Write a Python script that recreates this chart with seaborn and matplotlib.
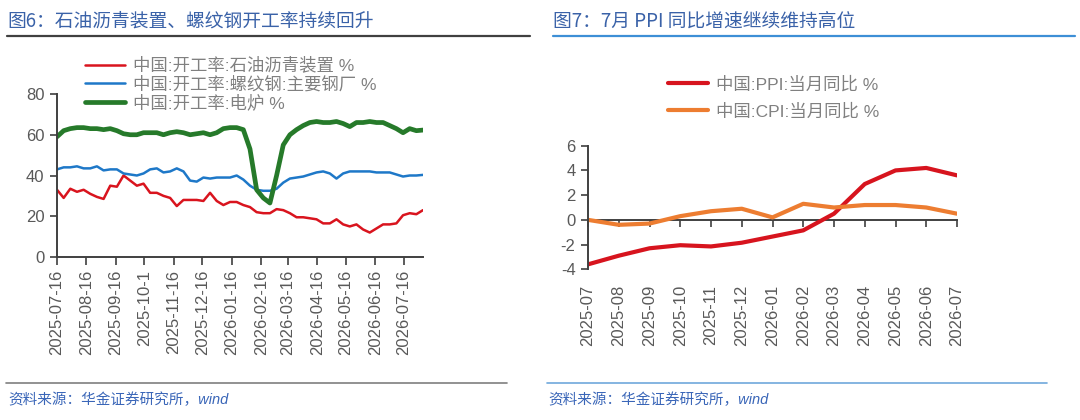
import pandas as pd
import matplotlib
matplotlib.use("Agg")
import matplotlib.pyplot as plt
from matplotlib.lines import Line2D
import seaborn as sns

sns.set_style("ticks")
plt.rcParams['font.family'] = ['Liberation Sans', 'Noto Sans CJK SC']
plt.rcParams['axes.unicode_minus'] = False

# ---- left chart: weekly operating rates ----
weeks = pd.date_range("2025-07-16", periods=56, freq="7D")
asphalt = [33, 29, 33.5, 32, 33, 31, 29.5, 28.5, 35, 34.5,
           40, 37.5, 35, 36, 31.5, 31.5, 30, 29, 25, 28,
           28, 28, 27.5, 31.5, 27.5, 25.5, 27, 27, 25.5, 24.5,
           22, 21.5, 21.5, 23.5, 23, 21.5, 19.5, 19.5, 19, 18.5,
           16.5, 16.5, 18.5, 16, 15, 16, 13.5, 12, 14, 16,
           16, 16.5, 20.5, 21.5, 21, 23]
rebar = [43, 44, 44, 44.5, 43.5, 43.5, 44.5, 42.5, 43, 43,
         41, 40.5, 40, 41, 43, 43.5, 41.5, 42, 43.5, 42,
         37.5, 37, 39, 38.5, 39, 39, 39, 40, 38, 35,
         33, 32.5, 32.5, 33.5, 36.5, 38.5, 39, 39.5, 40.5, 41.5,
         42, 41, 38.5, 41, 42, 42, 42, 42, 41.5, 41.5,
         41.5, 40.5, 39.5, 40, 40, 40.3]
furnace = [59, 62, 63, 63.5, 63.5, 63, 63, 62.5, 63, 62,
           60.5, 60, 60, 61, 61, 61, 60, 61, 61.5, 61,
           60, 60.5, 61, 60, 61, 63, 63.5, 63.5, 62.5, 53,
           33, 29, 26.5, 40, 55, 60, 62.5, 64.5, 66, 66.5,
           66, 66, 66.5, 65.5, 64, 66, 66, 66.5, 66, 66,
           64.5, 63, 61, 63, 62, 62.3]
left_ticks = pd.date_range("2025-07-16", periods=13, freq=pd.DateOffset(months=1))
left_tick_labels = ["2025-07-16", "2025-08-16", "2025-09-16", "2025-10-1",
                    "2025-11-16", "2025-12-16", "2026-01-16", "2026-02-16",
                    "2026-03-16", "2026-04-16", "2026-05-16", "2026-06-16",
                    "2026-07-16"]
left_names = ["中国:开工率:石油沥青装置 %", "中国:开工率:螺纹钢:主要钢厂 %", "中国:开工率:电炉 %"]

# ---- right chart: monthly PPI / CPI ----
months = ["2025-07", "2025-08", "2025-09", "2025-10", "2025-11", "2025-12",
          "2026-01", "2026-02", "2026-03", "2026-04", "2026-05", "2026-06", "2026-07"]
ppi = [-3.6, -2.9, -2.3, -2.05, -2.15, -1.85, -1.35, -0.85, 0.5, 2.9, 4.0, 4.2, 3.6]
cpi = [0.0, -0.4, -0.3, 0.3, 0.7, 0.9, 0.2, 1.3, 1.0, 1.2, 1.2, 1.0, 0.5]
right_names = ["中国:PPI:当月同比 %", "中国:CPI:当月同比 %"]

spine_c = "#404040"
tick_c = "#595959"
legend_c = "#808080"

fig = plt.figure(figsize=(10.8, 4.2), dpi=100)

# left axes
ax1 = fig.add_axes([57 / 1080, 1 - 257 / 420, 366 / 1080, 163 / 420])
sns.lineplot(x=weeks, y=asphalt, ax=ax1, color="#D9141E", lw=1.8, label=left_names[0])
sns.lineplot(x=weeks, y=rebar, ax=ax1, color="#1E78C8", lw=1.8, label=left_names[1])
sns.lineplot(x=weeks, y=furnace, ax=ax1, color="#267A2A", lw=3.4, label=left_names[2])
ax1.set_xlim(weeks[0], weeks[-1])
ax1.set_ylim(0, 80)
ax1.set_yticks([0, 20, 40, 60, 80])
ax1.set_xticks(left_ticks)
ax1.set_xticklabels(left_tick_labels, rotation=90)
ax1.legend(loc="upper left", bbox_to_anchor=(85 / 1080, 1 - 57 / 420),
           bbox_transform=fig.transFigure, frameon=False, fontsize=12.5,
           handlelength=2.3, handletextpad=0.45, labelspacing=0.12,
           borderpad=0, borderaxespad=0, labelcolor=legend_c)

# right axes
ax2 = fig.add_axes([588 / 1080, 1 - 269.3 / 420, 369 / 1080, 123.6 / 420])
sns.lineplot(x=months, y=ppi, ax=ax2, color="#D7141E", lw=3, label=right_names[0])
sns.lineplot(x=months, y=cpi, ax=ax2, color="#ED7D31", lw=3, label=right_names[1])
ax2.set_xlim(0, len(months) - 1)
ax2.set_ylim(-4, 6)
ax2.set_yticks([-4, -2, 0, 2, 4, 6])
ax2.spines["bottom"].set_visible(False)
ax2.tick_params(axis="x", length=0, pad=11, rotation=90)
zero = ax2.secondary_xaxis(0.4)
zero.set_xticks(range(len(months)))
zero.tick_params(axis="x", direction="out", length=5, width=1.2,
                 labelbottom=False, color=spine_c)
zero.spines["bottom"].set_color(spine_c)
zero.spines["bottom"].set_linewidth(1.4)
ax2.legend(loc="upper left", bbox_to_anchor=(668 / 1080, 1 - 76 / 420),
           bbox_transform=fig.transFigure, frameon=False, fontsize=12.5,
           handlelength=2.3, handletextpad=0.45, labelspacing=0.6,
           borderpad=0, borderaxespad=0, labelcolor=legend_c)

for ax in (ax1, ax2):
    ax.set_xlabel("")
    ax.set_ylabel("")
    for s in ("top", "right"):
        ax.spines[s].set_visible(False)
    for s in ("left", "bottom"):
        ax.spines[s].set_color(spine_c)
        ax.spines[s].set_linewidth(1.4)
    ax.tick_params(axis="both", labelsize=12, labelcolor=tick_c, color=spine_c)
    ax.tick_params(axis="y", direction="out", length=5, width=1.2, pad=4)
ax1.tick_params(axis="x", direction="out", length=6, width=1.2, pad=3)
ax2.tick_params(axis="x", length=0)

# titles, rules and sources
title_c = "#3A62A8"
fig.text(7 / 1080, 1 - 21 / 420, "图6：石油沥青装置、螺纹钢开工率持续回升",
         fontsize=13.5, color=title_c, va="center", family=['Noto Sans CJK SC'])
fig.text(553 / 1080, 1 - 21 / 420, "图7：7月 PPI 同比增速继续维持高位",
         fontsize=13.5, color=title_c, va="center", family=['Noto Sans CJK SC'])
fig.add_artist(Line2D([7 / 1080, 530 / 1080], [1 - 36 / 420] * 2, color="#404040", lw=1.6))
fig.add_artist(Line2D([553 / 1080, 1075 / 1080], [1 - 36 / 420] * 2, color="#3D8FD6", lw=1.6))
fig.add_artist(Line2D([6 / 1080, 507 / 1080], [1 - 383 / 420] * 2, color="#7F7F7F", lw=1.2))
fig.add_artist(Line2D([547 / 1080, 1047 / 1080], [1 - 383 / 420] * 2, color="#6FA8DC", lw=1.2))
for x0 in (8, 548):
    fig.text(x0 / 1080, 1 - 400 / 420, "资料来源：华金证券研究所，wind", fontsize=10.5,
             color="#3A66B8", style="italic", va="center")

fig.savefig("out.png", dpi=100)
